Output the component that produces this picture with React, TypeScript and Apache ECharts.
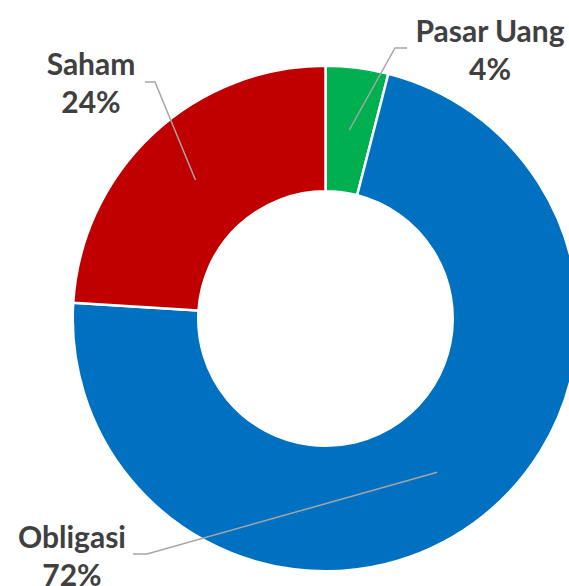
import React, { useEffect, useRef } from "react";
import * as echarts from "echarts";

const categories = ["Pasar Uang", "Obligasi", "Saham"];
const values = [4, 72, 24];
const colors = ["#00B050", "#0070C0", "#C00000"];

// layout only: label block centres and line bend/end points
const labelPos = [
  { x: 490, y: 49, bend: [395, 48], end: [407, 48] },
  { x: 72, y: 555, bend: [147, 554], end: [133, 554] },
  { x: 91, y: 82, bend: [155, 82], end: [145, 82] },
];
const CX = 325.5;
const CY = 318.5;
const R_IN = 127.25;
const R_OUT = 252.75;

export default function App() {
  const ref = useRef<HTMLDivElement>(null);
  useEffect(() => {
    if (!ref.current) return;
    const chart = echarts.init(ref.current, null, { renderer: "svg" });
    const total = values.reduce((a, b) => a + b, 0);
    const mids: number[][] = [];
    let acc = 0;
    const rMid = (R_IN + R_OUT) / 2;
    values.forEach((v) => {
      const frac = (acc + v / 2) / total;
      const th = frac * Math.PI * 2;
      mids.push([CX + rMid * Math.sin(th), CY - rMid * Math.cos(th)]);
      acc += v;
    });
    const data = categories.map((name, i) => ({
      name,
      value: values[i],
      itemStyle: { color: colors[i] },
    }));
    chart.setOption({
      animation: false,
      series: [
        {
          type: "pie",
          z: 2,
          center: [CX, CY],
          radius: [R_IN, R_OUT],
          startAngle: 90,
          clockwise: true,
          silent: true,
          itemStyle: { borderColor: "#ffffff", borderWidth: 2.5 },
          emphasis: { disabled: true },
          label: { show: false },
          labelLine: { show: false },
          data,
        },
        {
          type: "pie",
          z: 5,
          center: [CX, CY],
          radius: [R_IN, R_OUT],
          startAngle: 90,
          clockwise: true,
          silent: true,
          avoidLabelOverlap: false,
          itemStyle: { color: "rgba(0,0,0,0)", borderWidth: 0 },
          emphasis: { disabled: true },
          label: {
            show: true,
            position: "outside",
            formatter: (p: any) => `${p.name}\n${Math.round(p.percent)}%`,
            color: "#404040",
            fontFamily: "Lato",
            fontWeight: "bold",
            fontSize: 30,
            lineHeight: 38,
            align: "center",
          },
          labelLine: {
            show: true,
            showAbove: true,
            length: 10,
            length2: 10,
            lineStyle: { color: "#A6A6A6", width: 1.5 },
          },
          labelLayout: (params: any) => {
            const lp = labelPos[params.dataIndex];
            return {
              x: lp.x,
              y: lp.y,
              align: "center",
              verticalAlign: "middle",
              hideOverlap: false,
              labelLinePoints: [mids[params.dataIndex], lp.bend, lp.end],
            };
          },
          data: categories.map((name, i) => ({ name, value: values[i] })),
        },
      ],
    });
    return () => chart.dispose();
  }, []);
  return (
    <div
      ref={ref}
      style={{ position: "absolute", left: 0, top: 0, width: 569, height: 586 }}
    />
  );
}
